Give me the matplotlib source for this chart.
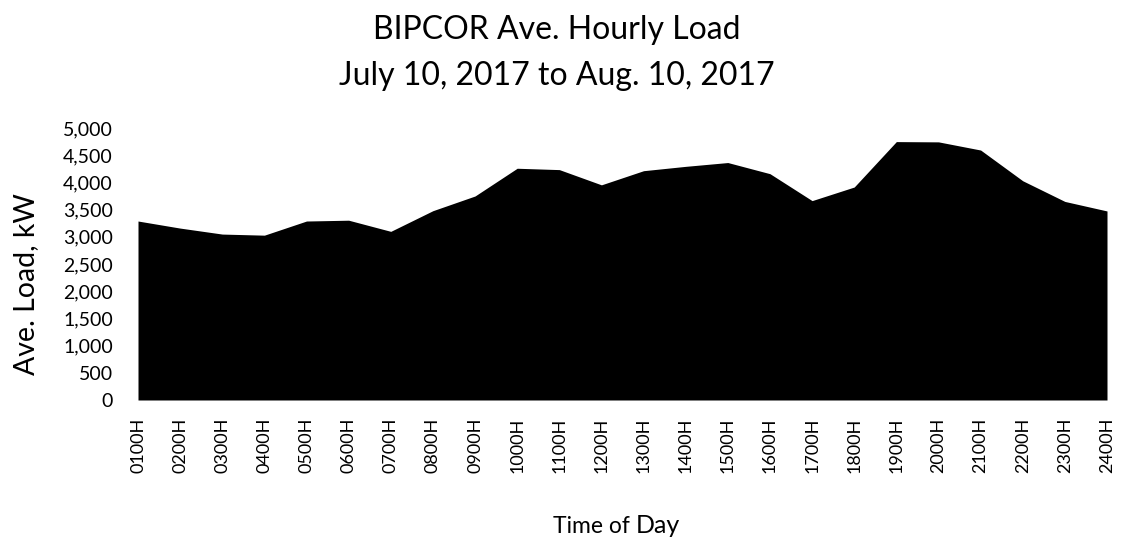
import matplotlib
matplotlib.use("Agg")
import matplotlib.pyplot as plt
from matplotlib.ticker import FuncFormatter

hours = ["0100H", "0200H", "0300H", "0400H", "0500H", "0600H", "0700H", "0800H",
         "0900H", "1000H", "1100H", "1200H", "1300H", "1400H", "1500H", "1600H",
         "1700H", "1800H", "1900H", "2000H", "2100H", "2200H", "2300H", "2400H"]
load_kw = [3290, 3160, 3050, 3030, 3290, 3305, 3100, 3480,
           3750, 4260, 4235, 3955, 4215, 4295, 4365, 4160,
           3665, 3915, 4750, 4745, 4595, 4030, 3650, 3475]

plt.rcParams['font.family'] = ['Lato', 'DejaVu Sans']

W, H = 1124, 543
fig = plt.figure(figsize=(W / 100, H / 100), dpi=100)
ax = fig.add_axes([138 / W, 1 - 400 / H, (1107 - 138) / W, (400 - 128) / H])

x = list(range(len(hours)))
ax.fill_between(x, load_kw, 0, color="black", linewidth=0)
ax.set_xlim(0, len(hours) - 1)
ax.set_ylim(0, 5000)
ax.set_yticks(range(0, 5001, 500))
ax.yaxis.set_major_formatter(FuncFormatter(lambda v, p: f"{int(v):,}"))
ax.set_xticks(x)
ax.set_xticklabels(hours, rotation=90, fontsize=13)
ax.tick_params(axis='y', labelsize=14, length=0, pad=18)
ax.tick_params(axis='x', length=0, pad=13)
for s in ax.spines.values():
    s.set_visible(False)

fig.text(26 / W, 1 - 284 / H, "Ave. Load, kW", rotation=90, ha="center", va="center", fontsize=20.5)

t1 = fig.text(553 / W, 1 - 533 / H, "Time of", ha="left", va="baseline", fontsize=16.5)
renderer = fig.canvas.get_renderer()
bb = t1.get_window_extent(renderer=renderer)
fig.text((bb.x1 + 6) / W, 1 - 533 / H, "Day", ha="left", va="baseline", fontsize=18)

fig.text(557 / W, 1 - 39 / H, "BIPCOR Ave. Hourly Load", ha="center", va="baseline", fontsize=23)
fig.text(557 / W, 1 - 85 / H, "July 10, 2017 to Aug. 10, 2017", ha="center", va="baseline", fontsize=23)

fig.savefig("out.png", dpi=100)
